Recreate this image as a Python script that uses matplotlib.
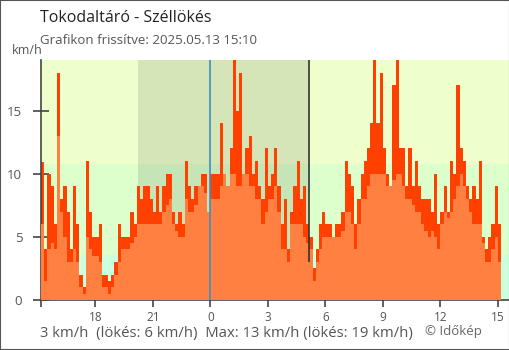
import numpy as np
import matplotlib
matplotlib.use("Agg")
import matplotlib.pyplot as plt
from matplotlib.patches import Rectangle

plt.rcParams['font.family'] = ['Open Sans', 'DejaVu Sans']

# 10-minute values, 15:10 (previous day) -> 15:10, km/h
gust_kmh = [
    10.9, 4, 10, 9, 6, 18,
    8, 9, 7, 4, 9, 6,
    2, 1, 11, 7, 5, 5,
    6, 2, 2, 1.5, 2, 3,
    6, 5, 5, 5, 7, 6,
    9, 8, 9, 9, 8, 7,
    9, 7, 9, 10, 10, 7,
    6, 7, 6, 11, 9, 8,
    9, 9, 10, 10, 7, 10,
    10, 10, 14, 10, 8, 12,
    19, 15, 18, 10, 12, 13,
    10, 11, 9, 8, 12, 9,
    10, 12, 9, 6, 8, 4,
    7, 9, 11, 8, 9, 6,
    5, 2.5, 4, 6, 7, 6,
    6, 5, 6, 6, 7, 11,
    10, 9, 6, 8, 10, 11,
    12, 14, 19, 14, 18, 12,
    10, 9, 17, 19, 12, 12,
    9, 12, 9, 11, 9, 8,
    8, 8, 7, 10, 6, 7,
    9, 7, 11, 10, 17, 12,
    11, 9, 8, 9, 8, 11,
    5, 4, 5, 6, 9, 6,
]
mean_kmh = [
    6, 1.5, 4, 4.5, 4, 13,
    7, 5, 3, 3, 4, 3,
    1, 0.5, 5, 4, 3.5, 3.5,
    3, 1, 1, 0.5, 1, 2,
    3, 4, 4, 4, 4.5, 5,
    6, 6, 6, 6, 6, 6,
    6, 6, 7, 7.5, 8, 6,
    5.5, 5, 5, 8, 7, 7,
    7.5, 9, 9, 8.5, 7, 8,
    8, 8, 9, 10, 9, 10,
    10, 9, 9, 10, 10, 9,
    9, 8, 8, 6, 7, 8,
    8, 9, 7, 4, 4, 3,
    6, 6, 6, 6, 5, 4.5,
    4, 1.5, 3, 4, 5, 5,
    5, 5, 5, 5, 5.5, 7,
    7, 6, 4, 6, 8, 8,
    9, 10, 10, 10, 10, 10,
    9, 9, 9.5, 10, 10, 9,
    8, 8, 7.5, 7, 7, 6,
    5.5, 5, 5.5, 5, 4, 6,
    7, 6.5, 7, 8, 9, 10,
    9, 8, 7, 6, 6, 6,
    4.5, 3, 3, 4, 5, 3,
]
start_hour = 15 + 10 / 60
tick_hours = [start_hour, 18, 21, 24, 27, 30, 33, 36, 39]
tick_labels = ['', '18', '21', '0', '3', '6', '9', '12', '15']
band_limits = [0, 3.6, 10.8, 19]
band_colors = ['#ccffdd', '#ddffcc', '#eeffcc']
sunset, sunrise = 20 + 14 / 60, 29 + 9 / 60

fig = plt.figure(figsize=(5.1, 3.5), dpi=100)
ax = fig.add_axes([41 / 510, 50 / 350, 468 / 510, 240 / 350])

# background bands + night
for lo, hi, c in zip(band_limits[:-1], band_limits[1:], band_colors):
    ax.axhspan(lo, hi, color=c, lw=0, zorder=0)
ax.axvspan(sunset, sunrise, color='black', alpha=0.1, lw=0, zorder=1)

edges = start_hour + np.arange(len(gust_kmh) + 1) / 6
ax.stairs(gust_kmh, edges, fill=True, color='#ff4000', zorder=2)
ax.stairs(mean_kmh, edges, fill=True, color='#ff8040', zorder=3)

ax.axvline(24, color='#3a8fc4', lw=1.2, zorder=4)
ax.vlines(sunrise, 3.0, 19, color='#333333', lw=1.2, zorder=4)

ax.set_xlim(start_hour, start_hour + 468 / 19.17)
ax.set_ylim(0, 19)
ax.set_xticks(tick_hours)
ax.set_xticklabels(tick_labels)
ax.set_yticks([0, 5, 10, 15])
for s in ['top', 'right']:
    ax.spines[s].set_visible(False)
for s in ['left', 'bottom']:
    ax.spines[s].set_color('#444444')
    ax.spines[s].set_linewidth(1.2)
ax.tick_params(axis='y', direction='inout', length=11, width=1.2,
               color='#444444', labelcolor='#555555', labelsize=9.5, pad=8)
ax.tick_params(axis='x', direction='out', length=5, width=1.2,
               color='#444444', labelcolor='#555555', labelsize=8.5, pad=3)
ax.get_xticklines()[6].set_color('#3a8fc4')

fig.text(40 / 510, 1 - 18 / 350, 'Tokodaltáró - Széllökés', fontsize=11.5,
         color='#222222', va='center', ha='left')
fig.text(40 / 510, 1 - 41 / 350, 'Grafikon frissítve: 2025.05.13 15:10',
         fontsize=9.5, color='#555555', va='center', ha='left')
fig.text(12 / 510, 1 - 51 / 350, 'km/h', fontsize=9, color='#555555',
         va='center', ha='left')
fig.text(40 / 510, 1 - 334 / 350,
         '3 km/h  (lökés: 6 km/h)  Max: 13 km/h (lökés: 19 km/h)',
         fontsize=10.7, color='#555555', va='center', ha='left')
fig.text(425 / 510, 1 - 331 / 350, '© Időkép', fontsize=9.5,
         color='#666666', va='center', ha='left')

fig.patches.append(Rectangle((0, 0), 1, 1, transform=fig.transFigure,
                             fill=False, edgecolor='#555555', lw=1.5))

fig.savefig('out.png', dpi=100)
